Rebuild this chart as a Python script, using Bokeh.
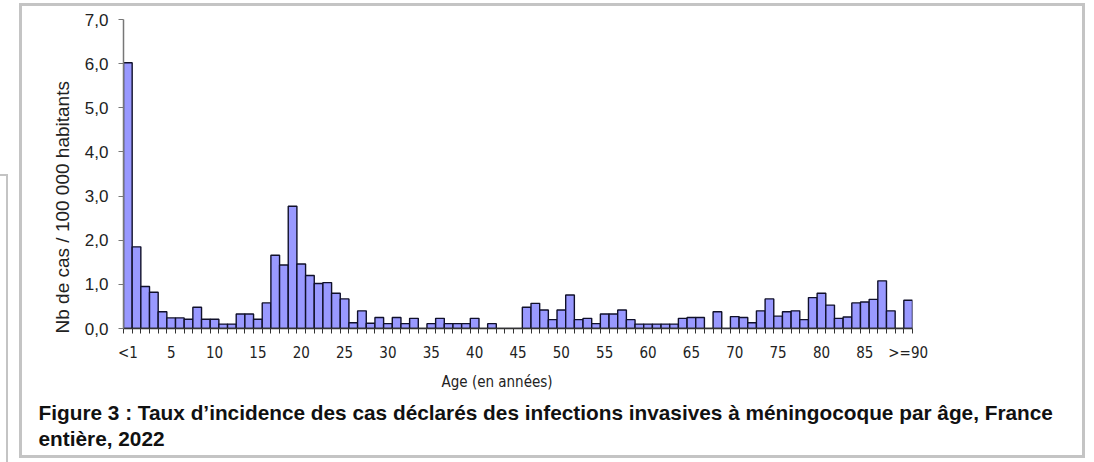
from bokeh.plotting import figure
from bokeh.models import FixedTicker, Title, InlineStyleSheet
from bokeh.embed import file_html
from bokeh.resources import INLINE

# ---- data ----
age_labels = ["<1"] + [str(a) for a in range(1, 90)] + [">=90"]
rates = [
    6.02, 1.85, 0.95, 0.82, 0.38, 0.24, 0.24, 0.21, 0.48, 0.21,
    0.21, 0.10, 0.10, 0.33, 0.33, 0.21, 0.58, 1.66, 1.44, 2.77,
    1.46, 1.20, 1.02, 1.04, 0.80, 0.67, 0.13, 0.40, 0.12, 0.25,
    0.11, 0.25, 0.11, 0.23, 0.00, 0.11, 0.23, 0.11, 0.11, 0.11,
    0.23, 0.00, 0.11, 0.00, 0.00, 0.00, 0.48, 0.57, 0.42, 0.20,
    0.42, 0.76, 0.20, 0.23, 0.11, 0.33, 0.33, 0.42, 0.20, 0.10,
    0.10, 0.10, 0.10, 0.10, 0.23, 0.25, 0.25, 0.00, 0.38, 0.00,
    0.27, 0.25, 0.13, 0.40, 0.67, 0.28, 0.38, 0.40, 0.20, 0.70,
    0.80, 0.53, 0.23, 0.26, 0.58, 0.60, 0.66, 1.08, 0.40, 0.00,
    0.64,
]
x_tick_labels = ["<1", "5", "10", "15", "20", "25", "30", "35", "40", "45",
                 "50", "55", "60", "65", "70", "75", "80", "85", ">=90"]
y_ticks = [0, 1, 2, 3, 4, 5, 6, 7]
y_tick_labels = ["0,0", "1,0", "2,0", "3,0", "4,0", "5,0", "6,0", "7,0"]

x_label = "Age (en années)"
y_label = "Nb de cas / 100 000 habitants"
caption1 = "Figure 3 : Taux d\u2019incidence des cas déclarés des infections invasives à méningocoque par âge, France"
caption2 = "entière, 2022"

n = len(rates)
left = list(range(n))
right = [i + 1 for i in range(n)]

narrow = "'Liberation Sans Narrow', 'DejaVu Sans Condensed', 'Liberation Sans', sans-serif"

p = figure(frame_width=789, frame_height=309,
           min_border_left=123, min_border_right=182,
           min_border_top=19, min_border_bottom=134,
           x_range=(0, n), y_range=(0, 7),
           output_backend="svg", toolbar_location=None)
p.outline_line_color = None
p.xgrid.visible = False
p.ygrid.visible = False

p.quad(left=left, right=right, bottom=0, top=rates,
       fill_color="#9999FF", line_color="#10102a", line_width=1.4)

# x axis
tick_pos = [i * 5 + 0.5 for i in range(len(x_tick_labels))]
p.xaxis.ticker = FixedTicker(ticks=tick_pos, minor_ticks=list(range(n + 1)))
p.xaxis.major_label_overrides = {t: l for t, l in zip(tick_pos, x_tick_labels)}
p.xaxis.major_tick_line_color = None
p.xaxis.major_tick_out = 0
p.xaxis.major_tick_in = 0
p.xaxis.minor_tick_out = 5
p.xaxis.minor_tick_in = 0
p.xaxis.minor_tick_line_color = "#333333"
p.xaxis.axis_line_color = "#333333"
p.xaxis.axis_line_width = 1.5
p.xaxis.major_label_standoff = 10
p.xaxis.major_label_text_font = narrow
p.xaxis.major_label_text_font_size = "15px"
p.xaxis.major_label_text_color = "#222222"

# y axis
p.yaxis.ticker = FixedTicker(ticks=y_ticks)
p.yaxis.major_label_overrides = {t: l for t, l in zip(y_ticks, y_tick_labels)}
p.yaxis.minor_tick_line_color = None
p.yaxis.major_tick_out = 5
p.yaxis.major_tick_in = 0
p.yaxis.major_tick_line_color = "#777777"
p.yaxis.axis_line_color = "#777777"
p.yaxis.axis_line_width = 1.5
p.yaxis.major_label_standoff = 10
p.yaxis.major_label_text_font = "Liberation Sans"
p.yaxis.major_label_text_font_size = "17px"
p.yaxis.major_label_text_color = "#222222"

# axis titles and caption as Title objects in side panels
p.add_layout(Title(text=y_label, align="left", offset=-5, standoff=18,
                   text_font="Liberation Sans", text_font_size="19px",
                   text_font_style="normal", text_color="#222222"), "left")
p.add_layout(Title(text=x_label, align="left", offset=318, standoff=13,
                   text_font=narrow, text_font_size="15px",
                   text_font_style="normal", text_color="#222222"), "below")
p.add_layout(Title(text=caption1, align="left", offset=-85, standoff=2,
                   text_font="Liberation Sans", text_font_size="20.8px",
                   text_font_style="bold", text_color="#111111"), "below")
p.add_layout(Title(text=caption2, align="left", offset=-85, standoff=0,
                   text_font="Liberation Sans", text_font_size="20.8px",
                   text_font_style="bold", text_color="#111111"), "below")

css = """
:host { position: relative; }
:host::after {
  content: ''; position: absolute; left: 19px; top: 3px; width: 1066px; height: 455px;
  border: 3px solid #c4c4c4; box-sizing: border-box; pointer-events: none; z-index: 10;
}
:host::before {
  content: ''; position: absolute; left: 0px; top: 174px; width: 8px; height: 288px;
  border-top: 2px solid #c4c4c4; border-right: 2px solid #c4c4c4;
  box-sizing: border-box; pointer-events: none; z-index: 10;
}
"""
p.stylesheets = [InlineStyleSheet(css=css)]

open("out.html", "w").write(file_html(p, INLINE))
